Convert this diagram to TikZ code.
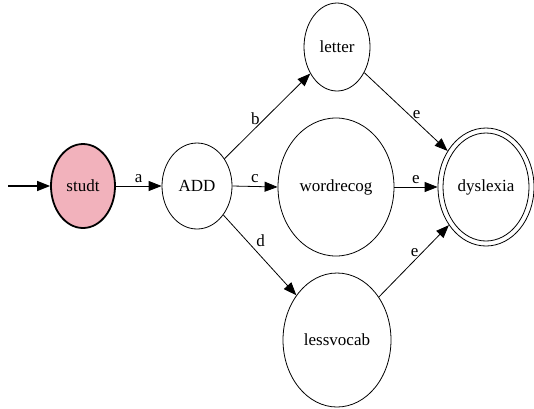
\documentclass[tikz,border=0pt]{standalone}
\usepackage{fontspec}
\newfontfamily\tnr{LiberationSerif}[Extension=.ttf,UprightFont=*-Regular]
\usetikzlibrary{shapes.geometric,arrows.meta}
\definecolor{statepink}{RGB}{242,178,188}
\begin{document}
\begin{tikzpicture}[x=1pt,y=-1pt,
  state/.style={ellipse,draw,line width=0.8pt,inner sep=0pt,font=\tnr\fontsize{17}{20}\selectfont},
  lbl/.style={font=\tnr\fontsize{17}{20}\selectfont,inner sep=3pt},
  edge/.style={line width=0.8pt,-{Triangle[length=13pt,width=10pt]}}]
\useasboundingbox (0,0) rectangle (534,408);
\node[state,fill=statepink,line width=1.8pt,minimum width=64pt,minimum height=84pt] (studt) at (83,186) {studt};
\node[state,minimum width=70pt,minimum height=86pt] (add) at (197,186) {ADD};
\node[state,minimum width=66pt,minimum height=88pt] (letter) at (337,47) {letter};
\node[state,minimum width=116pt,minimum height=138pt] (word) at (336,187) {wordrecog};
\node[state,minimum width=108pt,minimum height=134pt] (less) at (337,340) {lessvocab};
\node[state,minimum width=96pt,minimum height=118pt] (dys) at (486,187) {dyslexia};
\draw[line width=0.8pt] (dys.center) ellipse [x radius=43pt, y radius=54pt];
\coordinate (start) at (8,186);
\draw[edge,line width=1.4pt] (start) -- (studt);
\draw[edge] (studt) -- node[lbl,above] {a} (add);
\draw[edge] (add) -- node[lbl,pos=0.36,above] {b} (letter);
\draw[edge] (add.east) -- node[lbl,above] {c} (word.west);
\draw[edge] (add) -- node[lbl,pos=0.42,anchor=south west,inner sep=2pt] {d} (less);
\draw[edge] (letter) -- node[lbl,pos=0.63,above] {e} (dys);
\draw[edge] (word) -- node[lbl,above] {e} (dys);
\draw[edge] (less) -- node[lbl,pos=0.51,above] {e} (dys);
\end{tikzpicture}
\end{document}
